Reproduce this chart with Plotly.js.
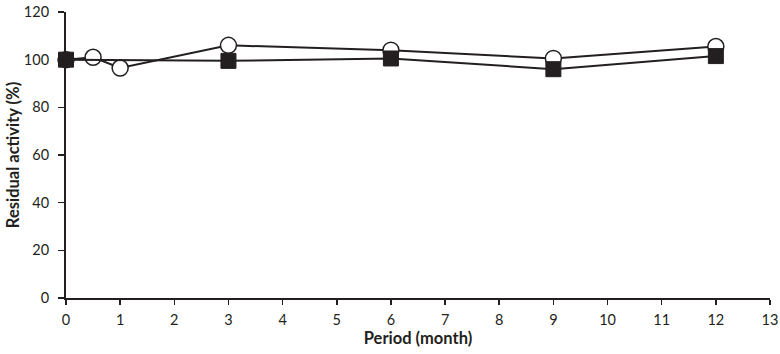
<!DOCTYPE html>
<html><head><meta charset="utf-8">
<script src="https://cdn.plot.ly/plotly-3.0.1.min.js"></script>
<style>html,body{margin:0;padding:0;background:#fff}#c{width:780px;height:354px}</style>
</head><body><div id="c"></div>
<script>
const openX = [0, 0.5, 1, 3, 6, 9, 12];
const openY = [100, 101, 96.5, 106, 104, 100.5, 105.5];
const filledX = [0, 3, 6, 9, 12];
const filledY = [100, 99.5, 100.5, 96, 101.5];
const xTicks = [0,1,2,3,4,5,6,7,8,9,10,11,12,13];
const yTicks = [0,20,40,60,80,100,120];
const ink = '#231f20';
const traces = [
  {x: openX, y: openY, mode: 'lines+markers', cliponaxis: false,
   line: {color: ink, width: 2},
   marker: {symbol: 'circle', size: 16, color: '#fff', line: {color: ink, width: 1.5}}},
  {x: filledX, y: filledY, mode: 'lines+markers', cliponaxis: false,
   line: {color: ink, width: 2},
   marker: {symbol: 'square', size: 15, color: ink, line: {color: ink, width: 1}}}
];
const layout = {
  width: 780, height: 354,
  margin: {l: 66, r: 10, t: 12, b: 56},
  showlegend: false,
  paper_bgcolor: '#fff', plot_bgcolor: '#fff',
  font: {family: 'Lato, "Open Sans", sans-serif', size: 14.5, color: ink},
  xaxis: {range: [0, 13], tickvals: xTicks, ticktext: xTicks.map(String),
    showgrid: false, zeroline: false, showline: true, linecolor: ink, linewidth: 2,
    ticks: 'outside', ticklen: 5, tickwidth: 1.5, tickcolor: ink, ticklabelstandoff: 3,
    title: {text: '<b>Period (month)</b>', font: {size: 16.5}, standoff: 0}},
  yaxis: {range: [0, 120], tickvals: yTicks, ticktext: yTicks.map(String),
    showgrid: false, zeroline: false, showline: true, linecolor: ink, linewidth: 2,
    ticks: 'outside', ticklen: 6, tickwidth: 1.5, tickcolor: ink, ticklabelstandoff: 6,
    title: {text: '<b>Residual activity (%)</b>', font: {size: 16.5}, standoff: 0}}
};
Plotly.newPlot('c', traces, layout, {displayModeBar: false, staticPlot: true});
</script></body></html>
